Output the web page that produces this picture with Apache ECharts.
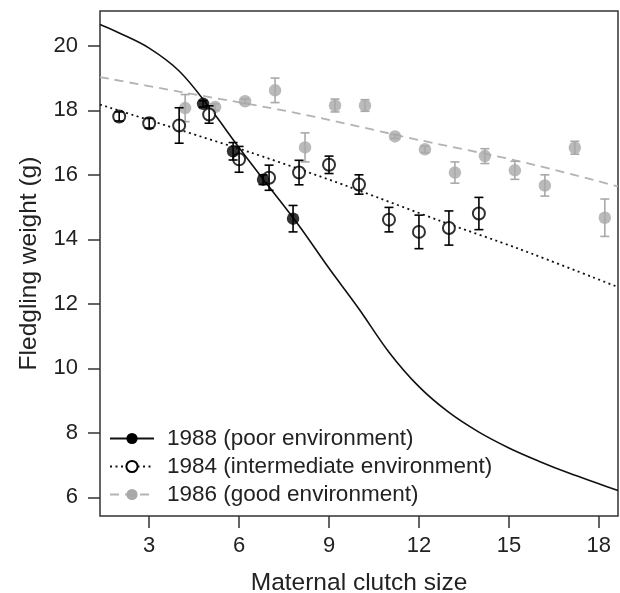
<!DOCTYPE html>
<html>
<head>
<meta charset="utf-8">
<script src="https://cdn.jsdelivr.net/npm/echarts@6/dist/echarts.min.js"></script>
<style>
html,body{margin:0;padding:0;background:#fff;}
#c{width:620px;height:593px;}
</style>
</head>
<body>
<div id="c"></div>
<script>
// ---- data ----
const xTicks = [3, 6, 9, 12, 15, 18];
const yTicks = [6, 8, 10, 12, 14, 16, 18, 20];

const names = ['1988 (poor environment)', '1984 (intermediate environment)', '1986 (good environment)'];

// 1988 (poor) points
const x1988 = [4.8, 5.8, 6.8, 7.8];
const y1988 = [18.2, 16.73, 15.85, 14.64];
const e1988 = [0.1, 0.27, 0.15, 0.41];

// 1984 (intermediate) points
const x1984 = [2, 3, 4, 5, 6, 7, 8, 9, 10, 11, 12, 13, 14];
const y1984 = [17.81, 17.60, 17.53, 17.87, 16.48, 15.91, 16.07, 16.31, 15.70, 14.61, 14.23, 14.35, 14.80];
const e1984 = [0.14, 0.15, 0.55, 0.27, 0.40, 0.39, 0.38, 0.27, 0.30, 0.38, 0.52, 0.53, 0.50];

// 1986 (good) points
const x1986 = [4.2, 5.2, 6.2, 7.2, 8.2, 9.2, 10.2, 11.2, 12.2, 13.2, 14.2, 15.2, 16.2, 17.2, 18.2];
const y1986 = [18.07, 18.10, 18.28, 18.62, 16.85, 18.15, 18.15, 17.19, 16.79, 16.07, 16.58, 16.14, 15.67, 16.84, 14.67];
const e1986 = [0.42, 0.10, 0.07, 0.38, 0.45, 0.20, 0.18, 0.06, 0.10, 0.33, 0.23, 0.28, 0.33, 0.20, 0.58];

// fitted curves (sampled from the figure)
const fit1988X = [1.36, 2, 3, 4, 5, 6, 7, 8, 9, 10, 11, 12, 13, 14, 15, 16, 17, 18, 18.64];
const fit1988Y = [20.66, 20.40, 19.93, 19.22, 18.10, 16.84, 15.63, 14.42, 13.10, 11.84, 10.50, 9.43, 8.63, 8.02, 7.53, 7.12, 6.75, 6.42, 6.21];

const fit1984X = [1.36, 4.0, 6.36, 8.0, 9.69, 12.8, 15.35, 18.64];
const fit1984Y = [18.18, 17.40, 16.70, 16.18, 15.62, 14.54, 13.70, 12.52];

const fit1986X = [1.36, 4.0, 8.0, 12.0, 15.35, 18.64];
const fit1986Y = [19.03, 18.58, 17.90, 17.08, 16.42, 15.64];

// ---- helpers ----
const zip = (xs, ys) => xs.map((x, i) => [x, ys[i]]);
const errData = (xs, ys, es) => xs.map((x, i) => [x, ys[i] - es[i], ys[i] + es[i]]);
const FONT = '"Liberation Sans", Arial, Helvetica, sans-serif';
const GREY = '#a9a9a9';

function errSeries(data, color, z) {
  return {
    type: 'custom',
    name: 'err',
    z: z,
    silent: true,
    encode: { x: 0, y: [1, 2] },
    data: data,
    renderItem: function (params, api) {
      const x = api.value(0), lo = api.value(1), hi = api.value(2);
      const p1 = api.coord([x, lo]);
      const p2 = api.coord([x, hi]);
      const w = 4.5;
      const st = { stroke: color, lineWidth: 1.6 };
      return {
        type: 'group',
        children: [
          { type: 'line', shape: { x1: p1[0], y1: p1[1], x2: p2[0], y2: p2[1] }, style: st },
          { type: 'line', shape: { x1: p1[0] - w, y1: p1[1], x2: p1[0] + w, y2: p1[1] }, style: st },
          { type: 'line', shape: { x1: p2[0] - w, y1: p2[1], x2: p2[0] + w, y2: p2[1] }, style: st }
        ]
      };
    }
  };
}

const chart = echarts.init(document.getElementById('c'), null, { renderer: 'canvas' });
chart.setOption({
  animation: false,
  backgroundColor: '#fff',
  textStyle: { fontFamily: FONT },
  grid: {
    left: 100, right: 2, top: 11, bottom: 77,
    outerBoundsMode: 'none', containLabel: false,
    show: true, borderColor: '#333', borderWidth: 1.5, backgroundColor: 'transparent'
  },
  legend: {
    data: names,
    orient: 'vertical',
    left: 104, top: 422,
    itemWidth: 44, itemHeight: 14, itemGap: 5,
    textStyle: { fontSize: 22.5, color: '#222', fontFamily: FONT, padding: [0, 0, 0, 8] },
    selectedMode: false
  },
  xAxis: {
    type: 'value', min: 1.36, max: 18.64,
    name: 'Maternal clutch size', nameLocation: 'middle', nameGap: 55,
    nameTextStyle: { fontSize: 24.5, color: '#222', fontFamily: FONT },
    splitLine: { show: false },
    axisLine: { show: false },
    axisTick: { show: true, customValues: xTicks, length: 12, lineStyle: { color: '#333', width: 1.5 } },
    axisLabel: { customValues: xTicks, fontSize: 22, color: '#222', margin: 19, fontFamily: FONT }
  },
  yAxis: {
    type: 'value', min: 5.42, max: 21.08,
    name: 'Fledgling weight (g)', nameLocation: 'middle', nameGap: 58,
    nameTextStyle: { fontSize: 24.5, color: '#222', fontFamily: FONT },
    splitLine: { show: false },
    axisLine: { show: false },
    axisTick: { show: true, customValues: yTicks, length: 12, lineStyle: { color: '#333', width: 1.5 } },
    axisLabel: { customValues: yTicks, fontSize: 22, color: '#222', margin: 22, fontFamily: FONT }
  },
  series: [
    {
      type: 'line', name: names[0], data: zip(fit1988X, fit1988Y), smooth: 0.35,
      showSymbol: false, symbol: 'circle', symbolSize: 10, clip: true, z: 5,
      itemStyle: { color: '#000' }, lineStyle: { color: '#111', width: 1.6, type: 'solid' }
    },
    {
      type: 'line', name: names[1], data: zip(fit1984X, fit1984Y), smooth: 0.3,
      showSymbol: false, symbol: 'emptyCircle', symbolSize: 9, clip: true, z: 4,
      itemStyle: { color: '#000', borderWidth: 2 }, lineStyle: { color: '#111', width: 1.8, type: [2, 3.5] }
    },
    {
      type: 'line', name: names[2], data: zip(fit1986X, fit1986Y), smooth: 0.3,
      showSymbol: false, symbol: 'circle', symbolSize: 10, clip: true, z: 3,
      itemStyle: { color: GREY }, lineStyle: { color: '#b3b3b3', width: 1.8, type: [9, 6] }
    },
    {
      type: 'scatter', name: 'p1986', data: zip(x1986, y1986), symbol: 'circle', symbolSize: 12.5, z: 6,
      itemStyle: { color: GREY }
    },
    errSeries(errData(x1986, y1986, e1986), GREY, 7),
    {
      type: 'scatter', name: 'p1984', data: zip(x1984, y1984), symbol: 'emptyCircle', symbolSize: 12, z: 8,
      itemStyle: { color: '#000', borderColor: '#000', borderWidth: 1.5 }
    },
    errSeries(errData(x1984, y1984, e1984), '#000', 9),
    {
      type: 'scatter', name: 'p1988', data: zip(x1988, y1988), symbol: 'circle', symbolSize: 12.5, z: 10,
      itemStyle: { color: '#000' }
    },
    errSeries(errData(x1988, y1988, e1988), '#000', 11)
  ]
});
</script>
</body>
</html>
